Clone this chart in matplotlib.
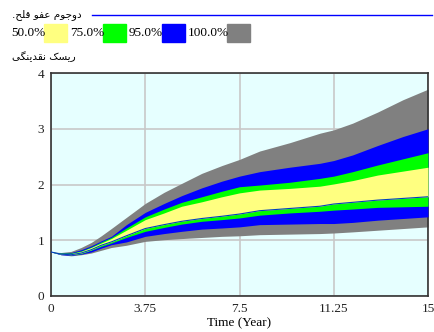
import matplotlib
matplotlib.use("Agg")
import matplotlib.pyplot as plt
from matplotlib.patches import Rectangle
from matplotlib.lines import Line2D

# time axis (years) and the eight band boundaries
time = [0, 0.4, 0.8, 1.2, 1.6, 2, 2.4, 3, 3.75, 4.5, 5.2, 6, 6.8, 7.5,
        8.3, 9.5, 10.7, 11.25, 12, 13, 14, 15]
gray_hi = [0.79, 0.78, 0.80, 0.87, 0.96, 1.08, 1.21, 1.41, 1.66, 1.86, 2.02, 2.20,
           2.34, 2.45, 2.60, 2.75, 2.92, 2.98, 3.10, 3.30, 3.52, 3.71]
blue_hi = [0.79, 0.77, 0.78, 0.83, 0.90, 0.99, 1.07, 1.28, 1.50, 1.66, 1.80, 1.94,
           2.06, 2.15, 2.23, 2.31, 2.38, 2.43, 2.53, 2.70, 2.86, 3.00]
green_hi = [0.79, 0.77, 0.77, 0.81, 0.88, 0.97, 1.05, 1.22, 1.42, 1.56, 1.68, 1.78,
            1.88, 1.96, 1.99, 2.04, 2.11, 2.15, 2.23, 2.35, 2.46, 2.57]
yellow_hi = [0.79, 0.76, 0.76, 0.80, 0.87, 0.95, 1.03, 1.18, 1.37, 1.49, 1.61, 1.69,
             1.78, 1.85, 1.90, 1.93, 1.97, 2.01, 2.07, 2.17, 2.24, 2.31]
yellow_lo = [0.79, 0.75, 0.74, 0.77, 0.83, 0.91, 0.97, 1.08, 1.21, 1.28, 1.34, 1.39,
             1.43, 1.47, 1.53, 1.57, 1.61, 1.65, 1.68, 1.72, 1.75, 1.78]
green_lo = [0.79, 0.75, 0.74, 0.76, 0.82, 0.89, 0.95, 1.05, 1.16, 1.23, 1.29, 1.34,
            1.37, 1.40, 1.45, 1.49, 1.52, 1.54, 1.56, 1.59, 1.60, 1.61]
blue_lo = [0.79, 0.74, 0.73, 0.75, 0.79, 0.86, 0.92, 0.97, 1.07, 1.12, 1.16, 1.20,
           1.22, 1.24, 1.28, 1.29, 1.30, 1.30, 1.32, 1.36, 1.39, 1.42]
gray_lo = [0.79, 0.74, 0.72, 0.74, 0.77, 0.82, 0.87, 0.91, 0.98, 1.01, 1.03, 1.05,
           1.07, 1.08, 1.10, 1.11, 1.12, 1.13, 1.15, 1.18, 1.21, 1.24]

band_labels = ["50.0%", "75.0%", "95.0%", "100.0%"]
band_colors = ["#FFFF80", "#00FF00", "#0000FF", "#808080"]
x_ticks = [0, 3.75, 7.5, 11.25, 15]
x_tick_labels = ["0", "3.75", "7.5", "11.25", "15"]
y_ticks = [0, 1, 2, 3, 4]

title_text = "دوجوم عفو قلح."
var_text = "ریسک نقدینگی"

# presentation forms (isolated, final, initial, medial) - matplotlib does no shaping
FORMS = {
    "ح": "\uFEA1\uFEA2\uFEA3\uFEA4", "ج": "\uFE9D\uFE9E\uFE9F\uFEA0",
    "د": "\uFEA9\uFEAA", "ر": "\uFEAD\uFEAE", "و": "\uFEED\uFEEE",
    "س": "\uFEB1\uFEB2\uFEB3\uFEB4", "ع": "\uFEC9\uFECA\uFECB\uFECC",
    "ف": "\uFED1\uFED2\uFED3\uFED4", "ق": "\uFED5\uFED6\uFED7\uFED8",
    "ل": "\uFEDD\uFEDE\uFEDF\uFEE0", "م": "\uFEE1\uFEE2\uFEE3\uFEE4",
    "ن": "\uFEE5\uFEE6\uFEE7\uFEE8", "ک": "\uFB8E\uFB8F\uFB90\uFB91",
    "گ": "\uFB92\uFB93\uFB94\uFB95", "ی": "\uFBFC\uFBFD\uFBFE\uFBFF",
}


def rtl(text):
    out = []
    for i, ch in enumerate(text):
        f = FORMS.get(ch)
        if f is None:
            out.append(ch)
            continue
        prev = text[i - 1] if i > 0 else ""
        nxt = text[i + 1] if i + 1 < len(text) else ""
        jp = prev in FORMS and len(FORMS[prev]) == 4
        jn = nxt in FORMS and len(f) == 4
        out.append(f[3] if jp and jn else f[1] if jp else f[2] if jn else f[0])
    return "".join(reversed(out))


W, H = 434, 332
fig = plt.figure(figsize=(W / 100, H / 100), dpi=100)
ax = fig.add_axes([51 / W, 1 - 296 / H, 377 / W, 223 / H])
ax.set_facecolor("#E6FFFF")

ax.fill_between(time, gray_lo, gray_hi, color=band_colors[3], lw=0, zorder=2)
ax.fill_between(time, blue_lo, blue_hi, color=band_colors[2], lw=0, zorder=3)
ax.fill_between(time, green_lo, green_hi, color=band_colors[1], lw=0, zorder=4)
ax.fill_between(time, yellow_lo, yellow_hi, color=band_colors[0], lw=0, zorder=5)
ax.plot(time, yellow_lo, color="#0040C0", lw=0.8, zorder=6)

ax.set_xlim(0, 15)
ax.set_ylim(0, 4)
ax.set_xticks(x_ticks, x_tick_labels)
ax.set_yticks(y_ticks)
ax.grid(True, color="#C8C8C8", lw=1.2, zorder=1)
ax.set_axisbelow(True)
ax.tick_params(length=0, pad=5, labelsize=9.5, colors="#222222")
for lab in ax.get_xticklabels() + ax.get_yticklabels():
    lab.set_family("Liberation Serif")
for s in ax.spines.values():
    s.set_color("#333333")
    s.set_linewidth(1.2)
ax.set_xlabel("Time (Year)", family="Liberation Serif", fontsize=9.5, labelpad=2)

# legend header drawn in figure pixels
def fx(px):
    return px / W


def fy(py):
    return 1 - py / H


fig.text(fx(12), fy(15), rtl(title_text), family="DejaVu Sans", fontsize=7.5,
         va="center", ha="left")
fig.add_artist(Line2D([fx(92), fx(432)], [fy(15), fy(15)], color="#0000FF", lw=1))

x = 11
for lab, col in zip(band_labels, band_colors):
    fig.text(fx(x), fy(33), lab, family="Liberation Serif", fontsize=9.5,
             va="center", ha="left")
    x += 33 if len(lab) == 5 else 39
    fig.add_artist(Rectangle((fx(x), fy(42)), 23 / W, 18 / H, color=col))
    x += 26

fig.text(fx(12), fy(57), rtl(var_text), family="DejaVu Sans", fontsize=7.5,
         va="center", ha="left")

fig.savefig("out.png", dpi=100)
